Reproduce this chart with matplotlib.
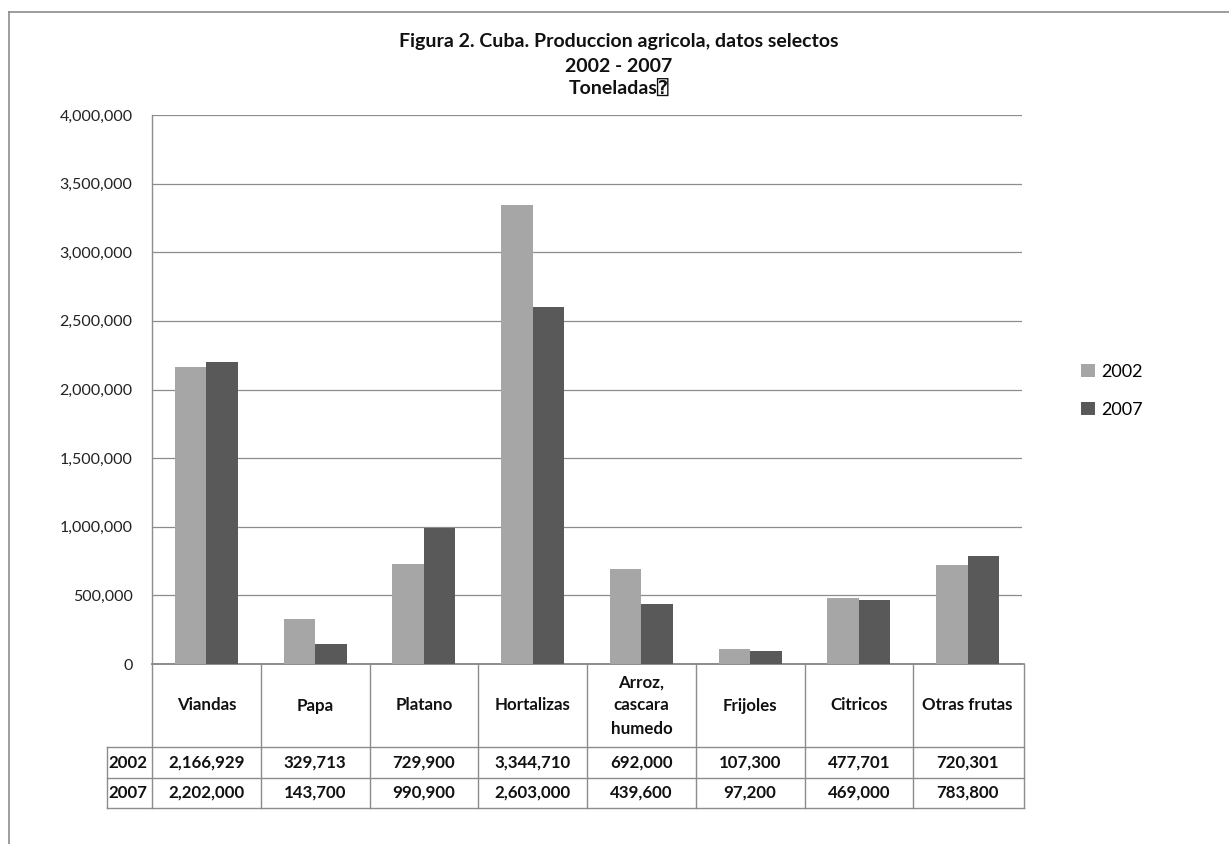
import matplotlib
matplotlib.use("Agg")
import matplotlib.pyplot as plt
from matplotlib.lines import Line2D
import matplotlib.transforms as mtrans
import numpy as np

FAM = ['Lato', 'DejaVu Sans', 'DejaVu Sans Mono', 'Noto Sans']
plt.rcParams['font.family'] = FAM

categories = ["Viandas", "Papa", "Platano", "Hortalizas", "Arroz,\ncascara\nhumedo",
              "Frijoles", "Citricos", "Otras frutas"]
series_names = ["2002", "2007"]
values_2002 = [2166929, 329713, 729900, 3344710, 692000, 107300, 477701, 720301]
values_2007 = [2202000, 143700, 990900, 2603000, 439600, 97200, 469000, 783800]
yticks = [0, 500000, 1000000, 1500000, 2000000, 2500000, 3000000, 3500000, 4000000]
title_lines = ["Figura 2. Cuba. Produccion agricola, datos selectos", "2002 - 2007",
               "Toneladas\u2370"]

colors = ["#A6A6A6", "#595959"]
W, H = 1229, 844
fig = plt.figure(figsize=(W / 100, H / 100), dpi=100)
fig.patch.set_facecolor("white")

L, R, T, B = 152, 1022, 115, 664
ax = fig.add_axes([L / W, 1 - B / H, (R - L) / W, (B - T) / H])

x = np.arange(len(categories))
bw = 0.29
ax.bar(x - bw / 2, values_2002, bw, color=colors[0], label=series_names[0], zorder=3)
ax.bar(x + bw / 2, values_2007, bw, color=colors[1], label=series_names[1], zorder=3)

ax.set_xlim(-0.5, len(categories) - 0.5)
ax.set_ylim(0, 4000000)
ax.set_yticks(yticks)
ax.set_yticklabels([f"{v:,}" for v in yticks], fontsize=11.5, color="#222222")
ax.tick_params(axis="y", length=0, pad=14)
ax.set_xticks([])
ax.grid(axis="y", color="#8C8C8C", linewidth=0.9, zorder=0)
for s in ["top", "right"]:
    ax.spines[s].set_visible(False)
ax.spines["left"].set_color("#8C8C8C")
ax.spines["bottom"].set_color("#8C8C8C")
ax.spines["left"].set_linewidth(1.0)
ax.spines["bottom"].set_linewidth(1.2)

# data table
tr = mtrans.blended_transform_factory(ax.transData, ax.transAxes)
ah = B - T
def ya(py):
    return (B - py) / ah

y_head = ya(747)
y_r1 = ya(778)
y_r2 = ya(808)
cw = (R - L) / len(categories)
xl = -0.5 - (152 - 107) / cw
xr = len(categories) - 0.5 + 2 / cw
lc = "#8C8C8C"
lw = 1.0
for i in range(len(categories) + 1):
    xv = -0.5 + i if i < len(categories) else xr
    ax.add_line(Line2D([xv, xv], [0, y_r2], transform=tr, color=lc, lw=lw, clip_on=False))
ax.add_line(Line2D([-0.5, xr], [0, 0], transform=tr, color=lc, lw=1.2, clip_on=False))
for yv in [y_head, y_r1, y_r2]:
    ax.add_line(Line2D([xl, xr], [yv, yv], transform=tr, color=lc, lw=lw, clip_on=False))
ax.add_line(Line2D([xl, xl], [y_head, y_r2], transform=tr, color=lc, lw=lw, clip_on=False))

fs = 12.2
for i, c in enumerate(categories):
    ax.text(i, y_head / 2, c, transform=tr, ha="center", va="center", fontsize=fs,
            fontweight="bold", linespacing=1.55, color="#111111")
    ax.text(i, (y_head + y_r1) / 2, f"{values_2002[i]:,}", transform=tr, ha="center",
            va="center", fontsize=fs, fontweight="bold", color="#111111")
    ax.text(i, (y_r1 + y_r2) / 2, f"{values_2007[i]:,}", transform=tr, ha="center",
            va="center", fontsize=fs, fontweight="bold", color="#111111")
for j, (name, yc) in enumerate([(series_names[0], (y_head + y_r1) / 2),
                                 (series_names[1], (y_r1 + y_r2) / 2)]):
    ax.text(xl + 0.01, yc, name, transform=tr, ha="left", va="center", fontsize=fs,
            fontweight="bold", color="#111111")

# title (three lines)
for line, py in zip(title_lines, [42, 66, 89]):
    fig.text(619 / W, 1 - py / H, line, ha="center", va="center", fontsize=14,
             fontweight="bold", color="#111111", family=FAM)

# legend
leg = fig.legend(loc="center left", bbox_to_anchor=(1065 / W, 1 - 391 / H), frameon=False,
                 fontsize=13, handlelength=0.75, handleheight=0.75, labelspacing=1.2,
                 handletextpad=0.35)

# outer chart border
fig.add_artist(Line2D([9 / W, 1.0], [1 - 12 / H, 1 - 12 / H], transform=fig.transFigure,
                      color="#8C8C8C", lw=1.2))
fig.add_artist(Line2D([9 / W, 9 / W], [1 - 12 / H, 0], transform=fig.transFigure,
                      color="#8C8C8C", lw=1.2))

fig.savefig("out.png", dpi=100, facecolor="white")
